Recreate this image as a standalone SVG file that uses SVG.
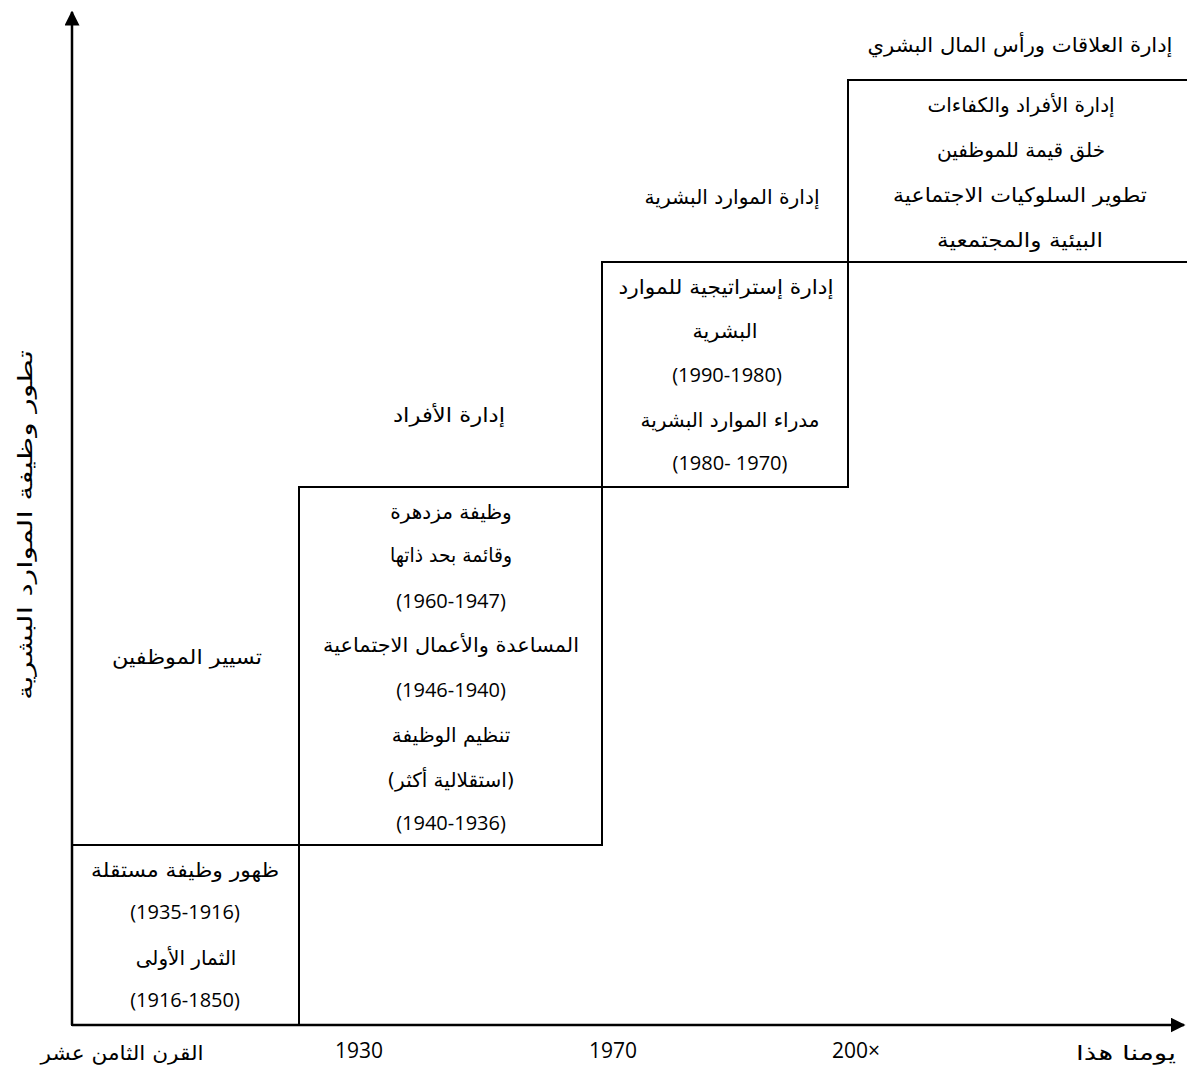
<svg xmlns="http://www.w3.org/2000/svg" width="1187" height="1070" viewBox="0 0 1187 1070">
  <style>
    .ar { font-family: "DejaVu Sans", "Noto Sans", sans-serif; font-size: 20px; fill: #000; text-anchor: middle; direction: rtl; }
    .num { font-family: "Open Sans", "Noto Sans", sans-serif; font-size: 20px; fill: #000; text-anchor: middle; }
    .ax { font-family: "Open Sans", "Noto Sans", sans-serif; font-size: 21px; fill: #000; text-anchor: middle; }
    .box { fill: none; stroke: #000; stroke-width: 2; }
    .axis { stroke: #000; stroke-width: 2.5; fill: none; }
  </style>
  <defs>
    <marker id="arrow" viewBox="0 0 10 10" refX="9" refY="5" markerWidth="6" markerHeight="6" markerUnits="strokeWidth" orient="auto">
      <path d="M0,0 L10,5 L0,10 Z" fill="#000"/>
    </marker>
  </defs>
  <rect width="1187" height="1070" fill="#fff"/>

  <!-- axes -->
  <g id="connectors">
    <line class="axis" x1="72" y1="1025" x2="72" y2="12" marker-end="url(#arrow)"/>
    <line class="axis" x1="72" y1="1025" x2="1184" y2="1025" marker-end="url(#arrow)"/>
  </g>

  <!-- axis labels -->
  <g id="y-label">
    <text class="ar" font-size="26" textLength="350" lengthAdjust="spacingAndGlyphs" transform="translate(32,525) rotate(-90)">تطور وظيفة الموارد البشرية</text>
  </g>
  <g id="x-labels">
    <text class="ar" x="122" y="1060" font-size="23" textLength="163" lengthAdjust="spacingAndGlyphs">القرن الثامن عشر</text>
    <text class="ax" x="359" y="1058">1930</text>
    <text class="ax" x="613" y="1058">1970</text>
    <text class="ax" x="856" y="1058">200×</text>
    <text class="ar" x="1126" y="1060" font-size="24" textLength="100" lengthAdjust="spacingAndGlyphs">يومنا هذا</text>
  </g>

  <!-- stage 1 -->
  <g id="stage1">
    <rect class="box" x="72" y="845" width="227" height="180"/>
    <text class="ar" x="185" y="877" textLength="188" lengthAdjust="spacingAndGlyphs">ظهور وظيفة مستقلة</text>
    <text class="num" x="185" y="919" font-size="21">(1935-1916)</text>
    <text class="ar" x="186" y="965">الثمار الأولى</text>
    <text class="num" x="185" y="1007" font-size="21">(1916-1850)</text>
  </g>
  <g id="label1">
    <text class="ar" x="187" y="664" textLength="150" lengthAdjust="spacingAndGlyphs">تسيير الموظفين</text>
  </g>

  <!-- stage 2 -->
  <g id="stage2">
    <rect class="box" x="299" y="487" width="303" height="358"/>
    <text class="ar" x="451" y="519" font-size="19">وظيفة مزدهرة</text>
    <text class="ar" x="451" y="562" textLength="122" lengthAdjust="spacingAndGlyphs">وقائمة بحد ذاتها</text>
    <text class="num" x="451" y="608">(1960-1947)</text>
    <text class="ar" x="451" y="652" textLength="256" lengthAdjust="spacingAndGlyphs">المساعدة والأعمال الاجتماعية</text>
    <text class="num" x="451" y="697">(1946-1940)</text>
    <text class="ar" x="451" y="742" font-size="18">تنظيم الوظيفة</text>
    <text class="ar" x="451" y="787" font-size="18">(استقلالية أكثر)</text>
    <text class="num" x="451" y="830">(1940-1936)</text>
  </g>
  <g id="label2">
    <text class="ar" x="449" y="422" textLength="112" lengthAdjust="spacingAndGlyphs">إدارة الأفراد</text>
  </g>

  <!-- stage 3 -->
  <g id="stage3">
    <rect class="box" x="602" y="262" width="246" height="225"/>
    <text class="ar" x="726" y="294" textLength="215" lengthAdjust="spacingAndGlyphs">إدارة إستراتيجية للموارد</text>
    <text class="ar" x="725" y="338" textLength="65" lengthAdjust="spacingAndGlyphs">البشرية</text>
    <text class="num" x="727" y="382">(1990-1980)</text>
    <text class="ar" x="730" y="427">مدراء الموارد البشرية</text>
    <text class="num" x="730" y="470">(1980- 1970)</text>
  </g>
  <g id="label3">
    <text class="ar" x="732" y="204" textLength="175" lengthAdjust="spacingAndGlyphs">إدارة الموارد البشرية</text>
  </g>

  <!-- stage 4 -->
  <g id="stage4">
    <path class="box" d="M1187,80 H848 V262 H1187"/>
    <text class="ar" x="1021" y="112">إدارة الأفراد والكفاءات</text>
    <text class="ar" x="1021" y="157">خلق قيمة للموظفين</text>
    <text class="ar" x="1020" y="202" textLength="254" lengthAdjust="spacingAndGlyphs">تطوير السلوكيات الاجتماعية</text>
    <text class="ar" x="1020" y="247" textLength="166" lengthAdjust="spacingAndGlyphs">البيئية والمجتمعية</text>
  </g>
  <g id="label4">
    <text class="ar" x="1020" y="52" textLength="305" lengthAdjust="spacingAndGlyphs">إدارة العلاقات ورأس المال البشري</text>
  </g>
</svg>
